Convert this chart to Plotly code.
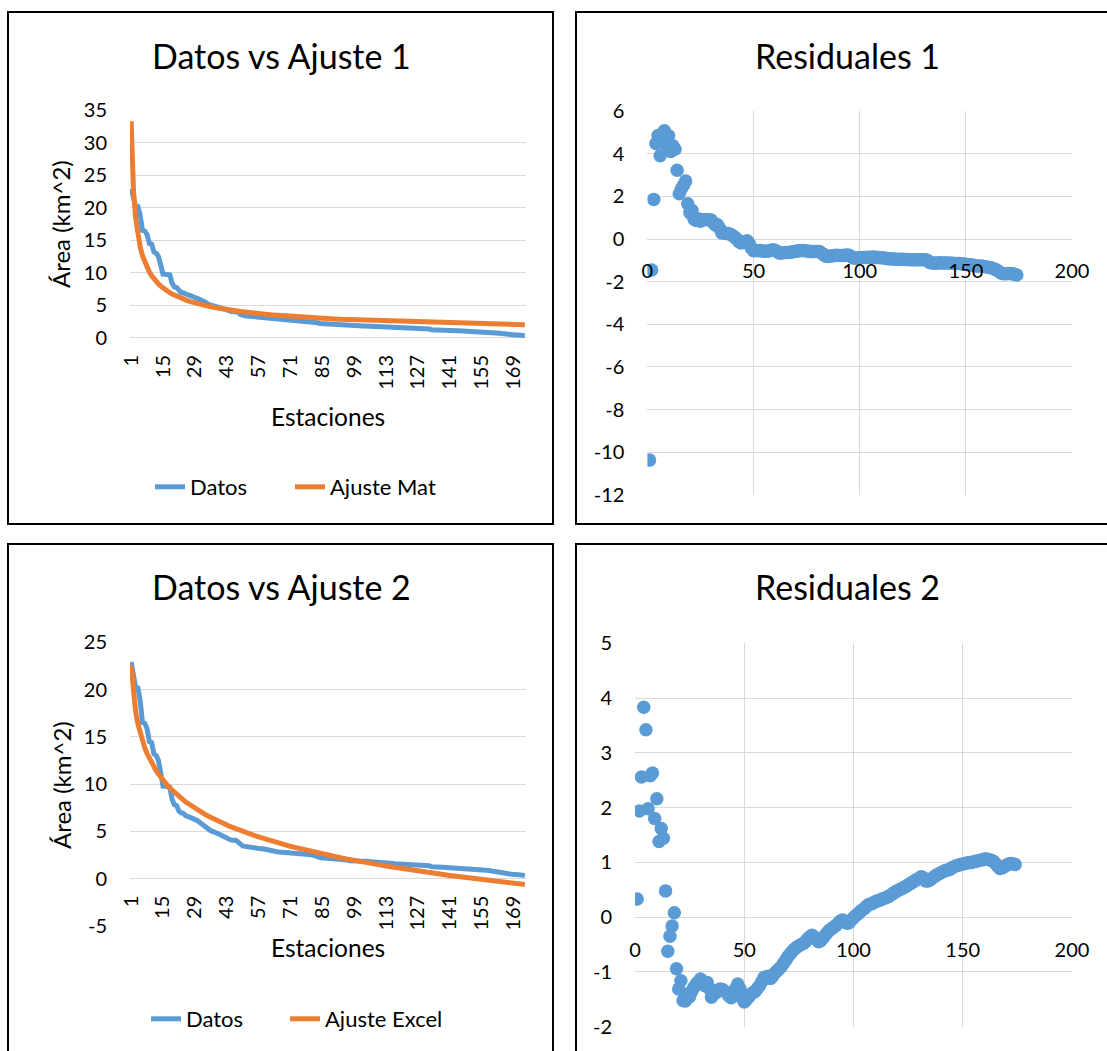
import plotly.graph_objects as go

# ---------------- data ----------------
estaciones = list(range(1, 175))

datos = [
    22.93, 21.42, 20.22, 20.19, 18.78, 16.52, 16.42, 15.87, 14.51, 14.40,
    13.19, 13.04, 12.50, 11.20, 9.79, 9.77, 9.69, 9.67, 8.41, 7.81,
    7.74, 7.17, 6.96, 6.90, 6.66, 6.59, 6.49, 6.39, 6.27, 6.16,
    5.95, 5.75, 5.68, 5.43, 5.14, 5.07, 4.97, 4.90, 4.80, 4.68,
    4.54, 4.40, 4.23, 4.10, 4.07, 4.06, 4.05, 3.88, 3.61, 3.45,
    3.41, 3.36, 3.33, 3.27, 3.22, 3.19, 3.16, 3.15, 3.15, 3.09,
    3.02, 2.91, 2.88, 2.86, 2.84, 2.81, 2.78, 2.77, 2.77, 2.76,
    2.75, 2.73, 2.71, 2.68, 2.65, 2.61, 2.57, 2.55, 2.54, 2.52,
    2.50, 2.41, 2.31, 2.21, 2.18, 2.18, 2.17, 2.17, 2.16, 2.14,
    2.12, 2.10, 2.09, 2.09, 2.06, 1.98, 1.90, 1.87, 1.87, 1.87,
    1.86, 1.85, 1.84, 1.83, 1.82, 1.81, 1.80, 1.77, 1.75, 1.73,
    1.71, 1.68, 1.66, 1.63, 1.61, 1.59, 1.57, 1.56, 1.55, 1.54,
    1.52, 1.50, 1.49, 1.47, 1.46, 1.45, 1.44, 1.43, 1.42, 1.41,
    1.40, 1.35, 1.25, 1.22, 1.21, 1.20, 1.20, 1.20, 1.18, 1.17,
    1.16, 1.15, 1.13, 1.11, 1.10, 1.09, 1.08, 1.06, 1.04, 1.02,
    1.00, 0.98, 0.96, 0.93, 0.91, 0.90, 0.88, 0.86, 0.84, 0.82,
    0.79, 0.76, 0.72, 0.67, 0.60, 0.53, 0.46, 0.44, 0.44, 0.44,
    0.43, 0.42, 0.38, 0.34,
]

ajuste_mat = [
    33.30, 22.87, 18.36, 15.71, 13.92, 12.61, 11.60, 10.79, 10.12, 9.56,
    9.08, 8.66, 8.29, 7.97, 7.67, 7.41, 7.17, 6.95, 6.75, 6.57,
    6.39, 6.24, 6.09, 5.95, 5.82, 5.69, 5.58, 5.47, 5.37, 5.27,
    5.18, 5.09, 5.01, 4.92, 4.85, 4.78, 4.71, 4.64, 4.57, 4.51,
    4.45, 4.39, 4.34, 4.28, 4.23, 4.18, 4.13, 4.09, 4.04, 4.00,
    3.95, 3.91, 3.87, 3.83, 3.79, 3.76, 3.72, 3.69, 3.65, 3.62,
    3.59, 3.56, 3.53, 3.50, 3.47, 3.44, 3.41, 3.38, 3.35, 3.33,
    3.30, 3.28, 3.25, 3.23, 3.21, 3.18, 3.16, 3.14, 3.12, 3.10,
    3.08, 3.06, 3.04, 3.02, 3.00, 2.98, 2.96, 2.94, 2.92, 2.91,
    2.89, 2.87, 2.85, 2.84, 2.82, 2.81, 2.79, 2.77, 2.76, 2.74,
    2.73, 2.71, 2.70, 2.68, 2.67, 2.66, 2.64, 2.63, 2.62, 2.61,
    2.59, 2.58, 2.57, 2.56, 2.55, 2.53, 2.52, 2.51, 2.50, 2.49,
    2.48, 2.46, 2.45, 2.44, 2.43, 2.42, 2.41, 2.40, 2.39, 2.38,
    2.37, 2.36, 2.35, 2.34, 2.33, 2.33, 2.32, 2.31, 2.30, 2.29,
    2.28, 2.27, 2.26, 2.25, 2.25, 2.24, 2.23, 2.22, 2.21, 2.20,
    2.20, 2.19, 2.18, 2.17, 2.17, 2.16, 2.15, 2.14, 2.14, 2.13,
    2.12, 2.11, 2.11, 2.10, 2.09, 2.09, 2.08, 2.07, 2.07, 2.06,
    2.05, 2.05, 2.04, 2.03,
]

ajuste_excel = [
    22.60, 19.48, 17.66, 16.36, 15.36, 14.54, 13.84, 13.24, 12.71, 12.24,
    11.81, 11.42, 11.06, 10.72, 10.41, 10.12, 9.85, 9.59, 9.35, 9.12,
    8.90, 8.69, 8.49, 8.30, 8.11, 7.94, 7.77, 7.61, 7.45, 7.29,
    7.15, 7.00, 6.87, 6.73, 6.60, 6.47, 6.35, 6.23, 6.11, 6.00,
    5.89, 5.78, 5.67, 5.57, 5.47, 5.37, 5.27, 5.18, 5.09, 5.00,
    4.91, 4.82, 4.73, 4.65, 4.57, 4.49, 4.41, 4.33, 4.25, 4.18,
    4.10, 4.03, 3.96, 3.88, 3.82, 3.75, 3.68, 3.61, 3.55, 3.48,
    3.42, 3.35, 3.29, 3.23, 3.17, 3.11, 3.05, 3.00, 2.94, 2.88,
    2.83, 2.77, 2.72, 2.66, 2.61, 2.56, 2.50, 2.45, 2.40, 2.35,
    2.30, 2.25, 2.20, 2.16, 2.11, 2.06, 2.01, 1.97, 1.92, 1.88,
    1.83, 1.79, 1.74, 1.70, 1.66, 1.61, 1.57, 1.53, 1.49, 1.45,
    1.41, 1.37, 1.33, 1.29, 1.25, 1.21, 1.17, 1.13, 1.09, 1.06,
    1.02, 0.98, 0.95, 0.91, 0.87, 0.84, 0.80, 0.77, 0.73, 0.70,
    0.66, 0.63, 0.59, 0.56, 0.53, 0.49, 0.46, 0.43, 0.39, 0.36,
    0.33, 0.30, 0.27, 0.24, 0.20, 0.17, 0.14, 0.11, 0.08, 0.05,
    0.02, -0.01, -0.04, -0.07, -0.10, -0.12, -0.15, -0.18, -0.21, -0.24,
    -0.27, -0.29, -0.32, -0.35, -0.38, -0.40, -0.43, -0.46, -0.48, -0.51,
    -0.54, -0.56, -0.59, -0.62,
]

# residuals: observed minus fitted
residuales_1 = [round(d - a, 3) for d, a in zip(datos, ajuste_mat)]
residuales_2 = [round(d - a, 3) for d, a in zip(datos, ajuste_excel)]

etiquetas_x = ['1', '15', '29', '43', '57', '71', '85', '99', '113', '127', '141', '155', '169']
posiciones_x = [1, 15, 29, 43, 57, 71, 85, 99, 113, 127, 141, 155, 169]

ticks_y1 = [0, 5, 10, 15, 20, 25, 30, 35]
etiquetas_y1 = ['0', '5', '10', '15', '20', '25', '30', '35']
ticks_y2 = [-12, -10, -8, -6, -4, -2, 0, 2, 4, 6]
etiquetas_y2 = ['-12', '-10', '-8', '-6', '-4', '-2', '0', '2', '4', '6']
ticks_y3 = [-5, 0, 5, 10, 15, 20, 25]
etiquetas_y3 = ['-5', '0', '5', '10', '15', '20', '25']
ticks_y4 = [-2, -1, 0, 1, 2, 3, 4, 5]
etiquetas_y4 = ['-2', '-1', '0', '1', '2', '3', '4', '5']
ticks_xr = [0, 50, 100, 150, 200]
etiquetas_xr = ['0', '50', '100', '150', '200']

# ---------------- style ----------------
W, H = 1107, 1051
AZUL = '#5B9BD5'
NARANJA = '#ED7D31'
GRID = '#D9D9D9'
FONT = 'Lato'
TICK = dict(family=FONT, size=20, color='#000000')


def px(x):
    return x / W


def py(y):
    return 1 - y / H


fig = go.Figure()

fig.add_trace(go.Scatter(x=estaciones, y=datos, mode='lines', name='Datos',
                         line=dict(color=AZUL, width=5), xaxis='x', yaxis='y', legend='legend'))
fig.add_trace(go.Scatter(x=estaciones, y=ajuste_mat, mode='lines', name='Ajuste Mat',
                         line=dict(color=NARANJA, width=5), xaxis='x', yaxis='y', legend='legend2'))
fig.add_trace(go.Scatter(x=estaciones, y=residuales_1, mode='markers', showlegend=False,
                         marker=dict(color=AZUL, size=13.5), xaxis='x2', yaxis='y2'))
fig.add_trace(go.Scatter(x=estaciones, y=datos, mode='lines', name='Datos',
                         line=dict(color=AZUL, width=5), xaxis='x3', yaxis='y3', legend='legend3'))
fig.add_trace(go.Scatter(x=estaciones, y=ajuste_excel, mode='lines', name='Ajuste Excel',
                         line=dict(color=NARANJA, width=5), xaxis='x3', yaxis='y3', legend='legend4'))
fig.add_trace(go.Scatter(x=estaciones, y=residuales_2, mode='markers', showlegend=False,
                         marker=dict(color=AZUL, size=13.5), xaxis='x4', yaxis='y4'))

cat_x = dict(range=[0.5, 174.5], tickmode='array', tickvals=posiciones_x, ticktext=etiquetas_x,
             tickangle=-90, showgrid=False, zeroline=False, showline=False, ticks='',
             tickfont=TICK, ticklabelstandoff=12, automargin=False)
num_y = dict(gridcolor=GRID, gridwidth=1, zeroline=True, zerolinecolor=GRID, zerolinewidth=1,
             showline=False, ticks='', tickfont=TICK, ticklabelstandoff=22, automargin=False,
             tickmode='array')
res_x = dict(range=[0, 200], tickmode='array', tickvals=ticks_xr, ticktext=etiquetas_xr,
             gridcolor=GRID, gridwidth=1, zeroline=False,
             showline=False, ticks='', tickfont=TICK, ticklabelstandoff=18, automargin=False)

LEG_FONT = dict(family=FONT, size=22, color='#000000')


def leyenda(xpix, ypix):
    return dict(orientation='h', x=px(xpix), xanchor='left', y=py(ypix), yanchor='middle',
                font=LEG_FONT, bgcolor='rgba(0,0,0,0)', borderwidth=0)


fig.update_layout(
    template='none',
    width=W, height=H, margin=dict(l=0, r=0, t=0, b=0, pad=0, autoexpand=False),
    paper_bgcolor='white', plot_bgcolor='white',
    font=dict(family=FONT, color='#000000'),
    xaxis=dict(domain=[px(130), px(526)], anchor='y', **cat_x),
    yaxis=dict(domain=[py(338), py(110)], anchor='x', range=[-0.02, 35.02],
               tickvals=ticks_y1, ticktext=etiquetas_y1, **num_y),
    xaxis2=dict(domain=[px(647.4), px(1072)], anchor='free', position=py(238.9), **res_x),
    yaxis2=dict(domain=[py(495.3), py(110.7)], anchor='x2', range=[-12.02, 6.02],
                tickvals=ticks_y2, ticktext=etiquetas_y2, **num_y),
    xaxis3=dict(domain=[px(130), px(526)], anchor='free', position=py(878.7), **cat_x),
    yaxis3=dict(domain=[py(926), py(642.3)], anchor='x3', range=[-5.02, 25.02],
                tickvals=ticks_y3, ticktext=etiquetas_y3, **num_y),
    xaxis4=dict(domain=[px(635), px(1072)], anchor='free', position=py(917.7), **res_x),
    yaxis4=dict(domain=[py(1027.3), py(642.7)], anchor='x4', range=[-2.01, 5.01],
                tickvals=ticks_y4, ticktext=etiquetas_y4, **num_y),
    legend=leyenda(150, 487),
    legend2=leyenda(290, 487),
    legend3=leyenda(146, 1019),
    legend4=leyenda(285, 1019),
)

# panel frames
for x0, y0, x1, y1 in [(8, 12, 553, 524), (576, 12, 1130, 524),
                       (8, 544, 553, 1070), (576, 544, 1130, 1070)]:
    fig.add_shape(type='rect', xref='paper', yref='paper',
                  x0=px(x0), x1=px(x1), y0=py(y1), y1=py(y0),
                  line=dict(color='black', width=2), fillcolor='rgba(0,0,0,0)', layer='above')

# titles and axis titles
textos = [
    ('Datos vs Ajuste 1', 281, 55, 34, 0),
    ('Residuales 1', 847, 55, 34, 0),
    ('Datos vs Ajuste 2', 281, 586, 34, 0),
    ('Residuales 2', 847, 586, 34, 0),
    ('Área (km^2)', 61, 224, 24, -90),
    ('Área (km^2)', 61, 785, 24, -90),
    ('Estaciones', 328, 416, 24.5, 0),
    ('Estaciones', 328, 947, 24.5, 0),
]
for t, x, y, s, ang in textos:
    fig.add_annotation(text=t, xref='paper', yref='paper', x=px(x), y=py(y),
                       xanchor='center', yanchor='middle', showarrow=False, textangle=ang,
                       font=dict(family=FONT, size=s, color='#000000'))

fig.write_html('out.html', config={'displayModeBar': False},
               post_script="document.body.style.margin='0px';document.body.style.padding='0px';")
